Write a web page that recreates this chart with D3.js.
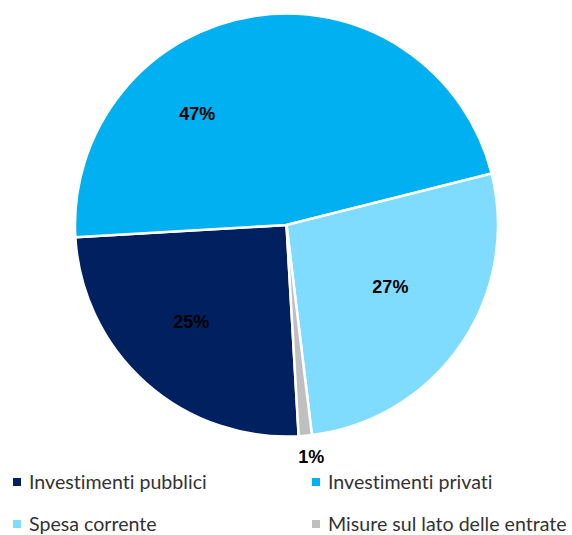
<!DOCTYPE html>
<html>
<head>
<meta charset="utf-8">
<script src="https://cdn.jsdelivr.net/npm/d3@7"></script>
<style>
  html, body { margin: 0; padding: 0; background: #fff; }
  svg { display: block; }
  .legend text { font-variant-ligatures: none; font-feature-settings: "liga" 0, "dlig" 0; }
</style>
</head>
<body>
<svg id="chart" width="572" height="535"></svg>
<script>
// Ripartizione delle misure
const categories = ["Investimenti pubblici", "Investimenti privati", "Spesa corrente", "Misure sul lato delle entrate"];
const shares = [25, 47, 27, 1];
const labels = ["25%", "47%", "27%", "1%"];
const colors = ["#002060", "#00b0f0", "#80dcff", "#bfbfbf"];

// label placement in polar terms: radius as fraction of the pie radius, angular nudge in degrees
const labelRadius = [0.64, 0.675, 0.57, 1.10];
const labelNudge = [3, -30, -4, -1];

const svg = d3.select("#chart");
const cx = 286.5, cy = 225, R = 211.5;
const startDeg = 176.7;

const pie = d3.pie()
  .sort(null)
  .value(d => d)
  .startAngle(startDeg * Math.PI / 180)
  .endAngle((startDeg + 360) * Math.PI / 180);

const arcs = pie(shares);
const arc = d3.arc().innerRadius(0).outerRadius(R);

const g = svg.append("g").attr("transform", `translate(${cx},${cy})`);

g.selectAll("path.slice")
  .data(arcs)
  .join("path")
  .attr("class", "slice")
  .attr("d", arc)
  .attr("fill", (d, i) => colors[i])
  .attr("stroke", "#fff")
  .attr("stroke-width", 2.5)
  .attr("stroke-linejoin", "round");

g.selectAll("text.pct")
  .data(arcs)
  .join("text")
  .attr("class", "pct")
  .attr("transform", (d, i) => {
    const a = (d.startAngle + d.endAngle) / 2 + labelNudge[i] * Math.PI / 180;
    const r = R * labelRadius[i];
    return `translate(${r * Math.sin(a)},${-r * Math.cos(a)})`;
  })
  .attr("text-anchor", "middle")
  .attr("dy", "0.36em")
  .attr("font-family", "'Liberation Sans', Arial, sans-serif")
  .attr("font-weight", "bold")
  .attr("font-size", 18)
  .attr("fill", "#000")
  .text((d, i) => labels[i]);

// legend, two columns
const legendX = d3.scalePoint().domain([0, 1]).range([13, 312]);
const legendY = d3.scalePoint().domain([0, 1]).range([489, 531]);

const items = svg.append("g").attr("class", "legend").selectAll("g.item")
  .data(categories)
  .join("g")
  .attr("class", "item")
  .attr("transform", (d, i) => `translate(${legendX(i % 2)},${legendY(Math.floor(i / 2))})`);

items.append("rect")
  .attr("x", 0)
  .attr("y", -11)
  .attr("width", 8)
  .attr("height", 8)
  .attr("fill", (d, i) => colors[i]);

items.append("text")
  .attr("x", 16)
  .attr("y", 0)
  .attr("font-family", "Lato, 'Liberation Sans', sans-serif")
  .attr("font-size", 19.6)
  .attr("fill", "#333")
  .text(d => d);
</script>
</body>
</html>
